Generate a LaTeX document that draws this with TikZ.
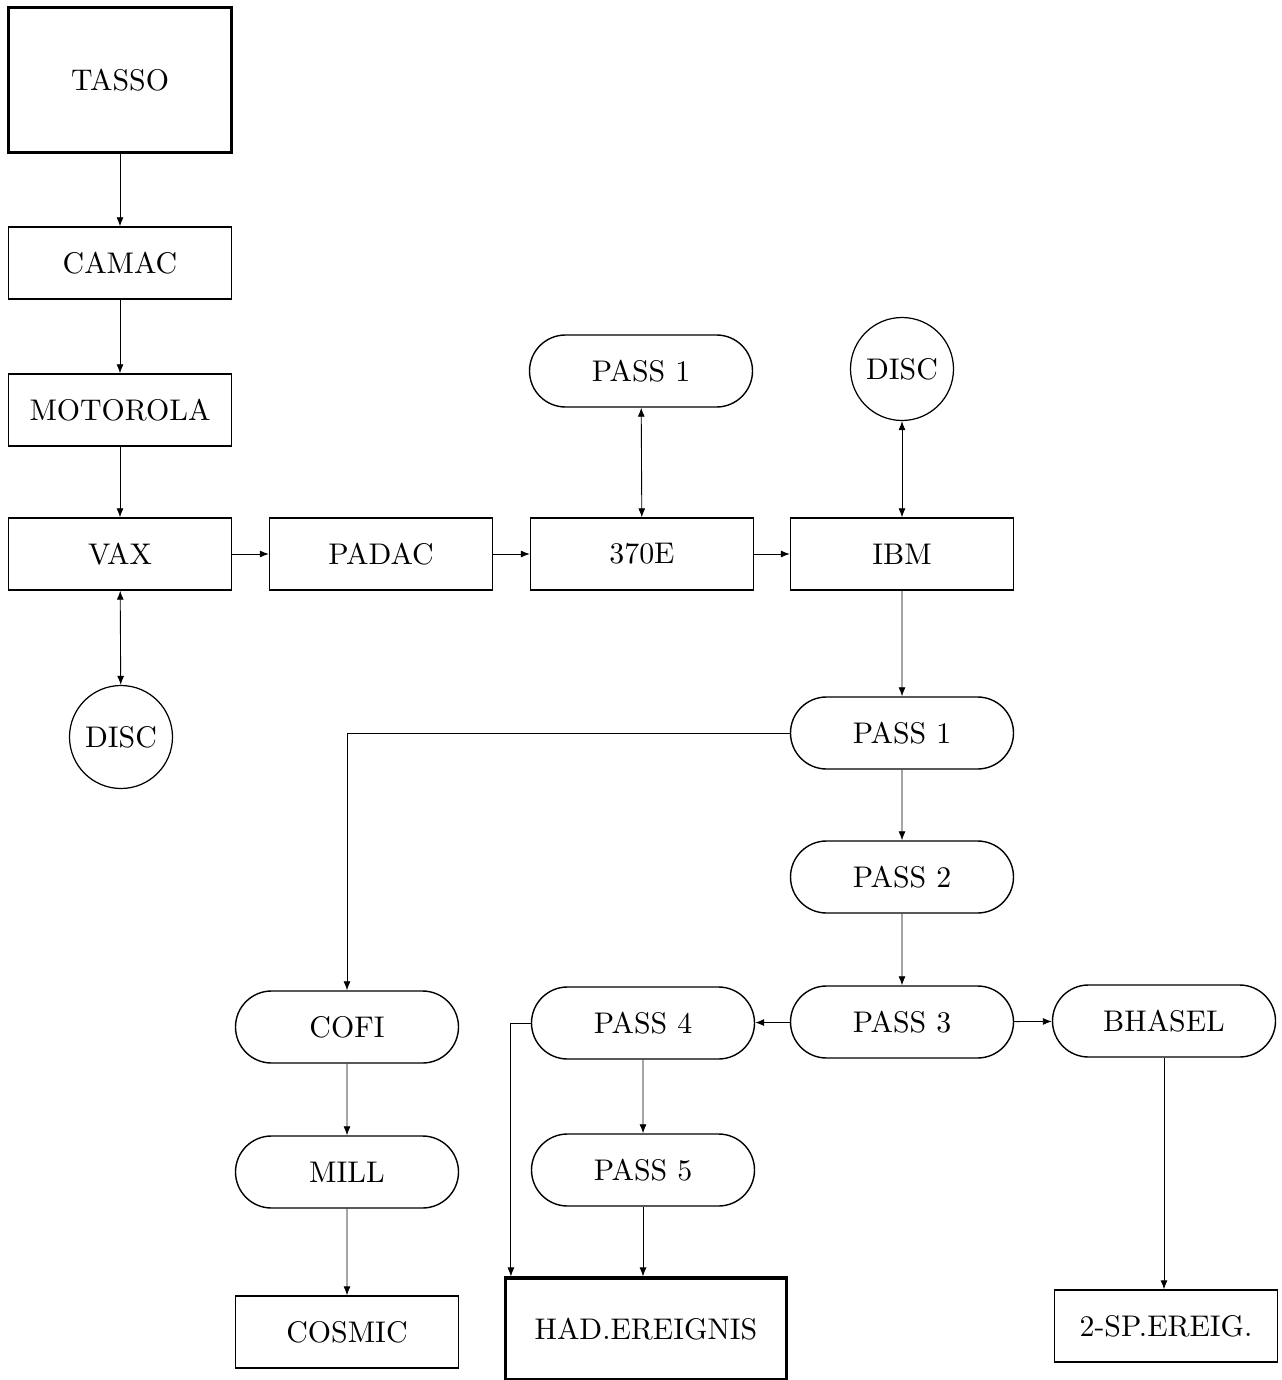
\documentclass[tikz,border=0pt]{standalone}
\usepackage{fontspec}
\setmainfont{lmroman10-regular}[Extension=.otf]
\usepackage{tikz}
\usetikzlibrary{arrows.meta,shapes.misc}

\begin{document}
\begin{tikzpicture}[font=\fontsize{17}{20}\selectfont]
\tikzstyle{box}=[draw,line width=0.8pt,minimum width=4.46cm,minimum height=1.44cm,inner sep=0pt]
\tikzstyle{bigbox}=[box,line width=1.8pt]
\tikzstyle{pass}=[box,rounded rectangle]
\tikzstyle{disc}=[draw,circle,line width=0.7pt,minimum size=2.06cm,inner sep=0pt]
\tikzstyle{arr}=[line width=0.5pt,-{Latex[length=1.8mm,width=1.4mm]}]
\tikzstyle{darr}=[line width=0.5pt,{Latex[length=1.8mm,width=1.4mm]}-{Latex[length=1.8mm,width=1.4mm]}]

\useasboundingbox (0,0) rectangle (25.62,-27.6);

% left column
\node(TASSO) [bigbox, minimum height=2.9cm] at (2.4,-1.6) {TASSO};
\node(CAMAC) [box] at (2.4,-5.26) {CAMAC};
\node(MOTOROLA) [box] at (2.4,-8.2) {MOTOROLA};
\node(VAX) [box] at (2.4,-11.08) {VAX};
\node(DISC1) [disc] at (2.42,-14.74) {DISC};

% top row
\node(PADAC) [box] at (7.62,-11.08) {PADAC};
\node(E370) [box] at (12.84,-11.08) {370E};
\node(IBM) [box] at (18.04,-11.08) {IBM};
\node(PASSa) [pass] at (12.82,-7.42) {PASS 1};
\node(DISC2) [disc] at (18.04,-7.38) {DISC};

% passes
\node(PASS1) [pass] at (18.04,-14.66) {PASS 1};
\node(PASS2) [pass] at (18.04,-17.54) {PASS 2};
\node(PASS3) [pass] at (18.04,-20.44) {PASS 3};
\node(PASS4) [pass] at (12.86,-20.46) {PASS 4};
\node(PASS5) [pass] at (12.86,-23.4) {PASS 5};
\node(BHASEL) [pass] at (23.28,-20.42) {BHASEL};
\node(COFI) [pass] at (6.94,-20.54) {COFI};
\node(MILL) [pass] at (6.94,-23.44) {MILL};

% outputs
\node(COSMIC) [box] at (6.94,-26.64) {COSMIC};
\node(HAD) [bigbox, minimum width=5.62cm, minimum height=2.04cm] at (12.92,-26.58) {HAD.EREIGNIS};
\node(SP2) [box] at (23.32,-26.52) {2-SP.EREIG.};
\coordinate (HADin) at ([xshift=0.14cm]HAD.north west);

\draw[arr] (TASSO) -- (CAMAC);
\draw[arr] (CAMAC) -- (MOTOROLA);
\draw[arr] (MOTOROLA) -- (VAX);
\draw[darr] (VAX) -- (DISC1);
\draw[arr] (VAX) -- (PADAC);
\draw[arr] (PADAC) -- (E370);
\draw[arr] (E370) -- (IBM);
\draw[darr] (PASSa) -- (E370);
\draw[darr] (DISC2) -- (IBM);
\draw[arr] (IBM) -- (PASS1);
\draw[arr] (PASS1.west) -| (COFI.north);
\draw[arr] (PASS1) -- (PASS2);
\draw[arr] (PASS2) -- (PASS3);
\draw[arr] (PASS3) -- (PASS4);
\draw[arr] (PASS3) -- (BHASEL);
\draw[arr] (PASS4.west) -| (HADin);
\draw[arr] (PASS4) -- (PASS5);
\draw[arr] (PASS5.south) -- (PASS5.south |- HAD.north);
\draw[arr] (COFI) -- (MILL);
\draw[arr] (MILL) -- (COSMIC);
\draw[arr] (BHASEL.south) -- (BHASEL.south |- SP2.north);

\end{tikzpicture}
\end{document}
